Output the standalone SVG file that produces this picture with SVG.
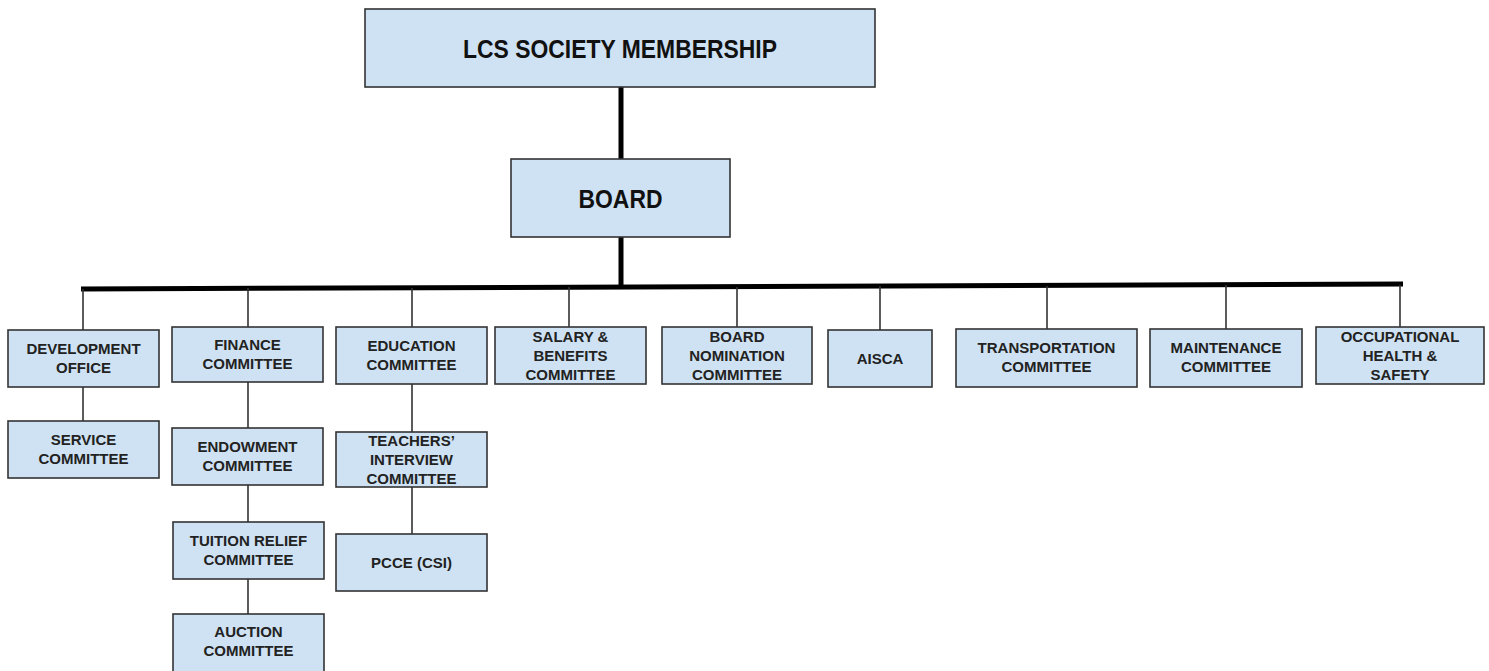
<svg xmlns="http://www.w3.org/2000/svg" width="1489" height="671" viewBox="0 0 1489 671">
<style>
.box{fill:#cfe2f3;stroke:#333;stroke-width:1.6}
.t{font-family:"Liberation Sans",Arial,sans-serif;font-weight:bold;font-size:15px;fill:#222;text-anchor:middle}
.big{font-size:26px;fill:#111}
.thick{stroke:#000;stroke-width:5;fill:none}
.thin{stroke:#333;stroke-width:1.6;fill:none}
</style>
<rect width="1489" height="671" fill="#fff"/>
<g id="connectors">
<line class="thick" x1="621" y1="87" x2="621" y2="159"/>
<line class="thick" x1="621" y1="237" x2="621" y2="286"/>
<line class="thick" x1="81" y1="289" x2="1403" y2="284"/>
<line class="thin" x1="83" y1="289" x2="83" y2="330"/>
<line class="thin" x1="248" y1="288" x2="248" y2="327"/>
<line class="thin" x1="412" y1="288" x2="412" y2="327"/>
<line class="thin" x1="569" y1="287" x2="569" y2="327"/>
<line class="thin" x1="737" y1="287" x2="737" y2="327"/>
<line class="thin" x1="880" y1="286" x2="880" y2="330"/>
<line class="thin" x1="1047" y1="286" x2="1047" y2="329"/>
<line class="thin" x1="1226" y1="285" x2="1226" y2="329"/>
<line class="thin" x1="1400" y1="285" x2="1400" y2="327"/>
<line class="thin" x1="83" y1="387" x2="83" y2="421"/>
<line class="thin" x1="248" y1="382" x2="248" y2="428"/>
<line class="thin" x1="248" y1="485" x2="248" y2="522"/>
<line class="thin" x1="248" y1="579" x2="248" y2="614"/>
<line class="thin" x1="412" y1="384" x2="412" y2="432"/>
<line class="thin" x1="412" y1="487" x2="412" y2="534"/>
</g>
<g id="membership">
<rect class="box" x="365" y="9" width="510" height="78"/>
<text class="t big" x="620" y="58" textLength="314" lengthAdjust="spacingAndGlyphs">LCS SOCIETY MEMBERSHIP</text>
</g>
<g id="board">
<rect class="box" x="511" y="159" width="219" height="78"/>
<text class="t big" x="620.5" y="208" textLength="84" lengthAdjust="spacingAndGlyphs">BOARD</text>
</g>
<g id="development">
<rect class="box" x="8" y="330" width="151" height="57"/>
<text class="t" x="83.5" y="354">DEVELOPMENT</text>
<text class="t" x="83.5" y="373">OFFICE</text>
</g>
<g id="service">
<rect class="box" x="8" y="421" width="151" height="57"/>
<text class="t" x="83.5" y="445">SERVICE</text>
<text class="t" x="83.5" y="464">COMMITTEE</text>
</g>
<g id="finance">
<rect class="box" x="172" y="327" width="151" height="55"/>
<text class="t" x="247.5" y="350">FINANCE</text>
<text class="t" x="247.5" y="369">COMMITTEE</text>
</g>
<g id="endowment">
<rect class="box" x="172" y="428" width="151" height="57"/>
<text class="t" x="247.5" y="452">ENDOWMENT</text>
<text class="t" x="247.5" y="471">COMMITTEE</text>
</g>
<g id="tuition">
<rect class="box" x="173" y="522" width="151" height="57"/>
<text class="t" x="248.5" y="546">TUITION RELIEF</text>
<text class="t" x="248.5" y="565">COMMITTEE</text>
</g>
<g id="auction">
<rect class="box" x="173" y="614" width="151" height="58"/>
<text class="t" x="248.5" y="637">AUCTION</text>
<text class="t" x="248.5" y="656">COMMITTEE</text>
</g>
<g id="education">
<rect class="box" x="336" y="327" width="151" height="57"/>
<text class="t" x="411.5" y="351">EDUCATION</text>
<text class="t" x="411.5" y="370">COMMITTEE</text>
</g>
<g id="teachers">
<rect class="box" x="336" y="432" width="151" height="55"/>
<text class="t" x="411.5" y="446">TEACHERS’</text>
<text class="t" x="411.5" y="465">INTERVIEW</text>
<text class="t" x="411.5" y="484">COMMITTEE</text>
</g>
<g id="pcce">
<rect class="box" x="336" y="534" width="151" height="57"/>
<text class="t" x="411.5" y="568">PCCE (CSI)</text>
</g>
<g id="salary">
<rect class="box" x="495" y="327" width="151" height="57"/>
<text class="t" x="570.5" y="342">SALARY &amp;</text>
<text class="t" x="570.5" y="361">BENEFITS</text>
<text class="t" x="570.5" y="380">COMMITTEE</text>
</g>
<g id="nomination">
<rect class="box" x="662" y="327" width="150" height="57"/>
<text class="t" x="737" y="342">BOARD</text>
<text class="t" x="737" y="361">NOMINATION</text>
<text class="t" x="737" y="380">COMMITTEE</text>
</g>
<g id="aisca">
<rect class="box" x="828" y="330" width="104" height="57"/>
<text class="t" x="880" y="364">AISCA</text>
</g>
<g id="transportation">
<rect class="box" x="956" y="329" width="181" height="58"/>
<text class="t" x="1046.5" y="353">TRANSPORTATION</text>
<text class="t" x="1046.5" y="372">COMMITTEE</text>
</g>
<g id="maintenance">
<rect class="box" x="1150" y="329" width="152" height="58"/>
<text class="t" x="1226" y="353">MAINTENANCE</text>
<text class="t" x="1226" y="372">COMMITTEE</text>
</g>
<g id="occupational">
<rect class="box" x="1316" y="327" width="168" height="57"/>
<text class="t" x="1400" y="342">OCCUPATIONAL</text>
<text class="t" x="1400" y="361">HEALTH &amp;</text>
<text class="t" x="1400" y="380">SAFETY</text>
</g>
</svg>
